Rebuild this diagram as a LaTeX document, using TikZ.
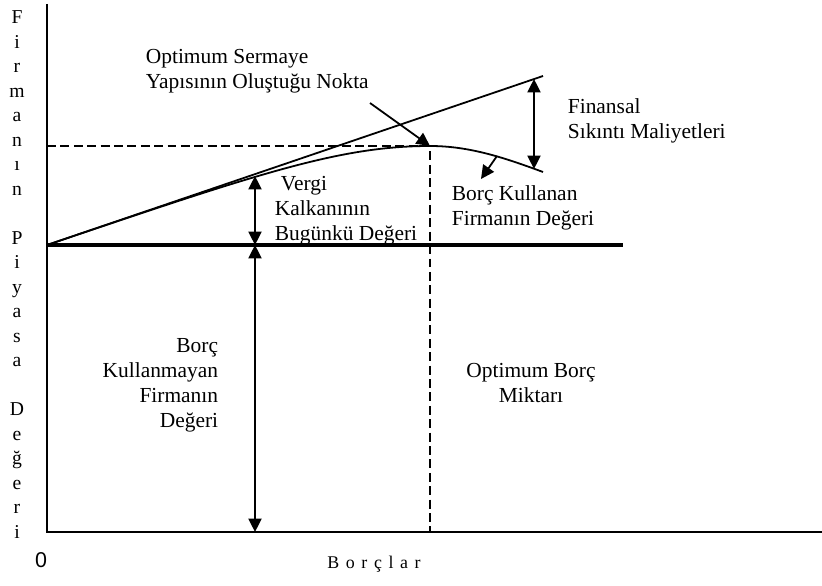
\documentclass[tikz,border=0pt]{standalone}
\usepackage{fontspec}
\setmainfont{Liberation Serif}
\newfontfamily\zerofont{Liberation Sans}
\usetikzlibrary{arrows.meta}

\begin{document}
\begin{tikzpicture}[x=0.56pt,y=-0.56pt,>={Triangle[width=7.3pt,length=7.5pt]},
    line width=1pt,
    lbl/.style={inner sep=0pt,font=\fontsize{12}{14}\selectfont},
    axisletter/.style={inner sep=0pt,anchor=base,font=\fontsize{11}{13}\selectfont},
    guide/.style={dash pattern=on 5pt off 2.5pt}]
  \useasboundingbox (0,0) rectangle (822,586);

  % axes
  \coordinate (yTop) at (47,4);
  \coordinate (orig) at (47,532);
  \coordinate (xEnd) at (822,532);
  \draw (yTop) -- (orig) -- (xEnd);
  \foreach \ch/\k in {F/0,i/1,r/2,m/3,a/4,n/5,ı/6,n/7,P/9,i/10,y/11,a/12,
      s/13,a/14,D/16,e/17,ğ/18,e/19,r/20,i/21}
    \node[axisletter] (ylab\k) at (17,24+24.5*\k) {\ch};
  \node[inner sep=0pt,font=\zerofont\fontsize{12}{14}\selectfont] (zero) at (41,560) {0};
  \node[inner sep=0pt,anchor=base,
    font=\fontsize{10}{12}\selectfont\addfontfeature{LetterSpace=37}] (xlbl)
    at (374,569) {Borçlar};

  % value lines
  \coordinate (base0) at (47,245);
  \coordinate (baseEnd) at (623,245);
  \coordinate (lineEnd) at (543,76);
  \coordinate (peak) at (430,146);
  \coordinate (curveEnd) at (543,172);
  \draw[line width=2.2pt] (base0) -- (baseEnd);
  \draw (base0) -- (lineEnd);
  \draw (base0) .. controls (260,173) and (340,146) .. (peak)
    .. controls (470,146) and (505,158) .. (curveEnd);

  \coordinate (dashL) at (47,146);
  \coordinate (peakFoot) at (430,532);
  \draw[guide] (dashL) -- (peak) -- (peakFoot);

  % measures
  \coordinate (vtop) at (255,176);
  \coordinate (vmid) at (255,245);
  \coordinate (vbot) at (255,532);
  \draw[<->] (vtop) -- (vmid);
  \draw[<->] (vmid) -- (vbot);
  \coordinate (fTop) at (534,79);
  \coordinate (fBot) at (534,169);
  \draw[<->] (fTop) -- (fBot);

  \coordinate (optFrom) at (370,103);
  \draw[->] (optFrom) -- (peak);
  \coordinate (curvePt) at (497,156);
  \coordinate (bkTip) at (481,179);
  \draw[->] (curvePt) -- (bkTip);

  % labels
  \node[lbl,anchor=north west,align=left] (optlbl) at (145,48)
    {Optimum Sermaye\\Yapısının Oluştuğu Nokta};
  \node[lbl,anchor=north west,align=left] (finlbl) at (567,98)
    {Finansal\\Sıkıntı Maliyetleri};
  \node[lbl,anchor=north west,align=left] (levlbl) at (451,185)
    {Borç Kullanan\\Firmanın Değeri};
  \node[lbl,anchor=north west,align=left] (taxlbl) at (274,175)
    {\hspace*{3.4pt}Vergi\\Kalkanının\\Bugünkü Değeri};
  \node[lbl,anchor=north east,align=right] (unlevlbl) at (219,338)
    {Borç\\Kullanmayan\\Firmanın\\Değeri};
  \node[lbl,anchor=north,align=center] (optdebt) at (531,362)
    {Optimum Borç\\Miktarı};
\end{tikzpicture}
\end{document}
